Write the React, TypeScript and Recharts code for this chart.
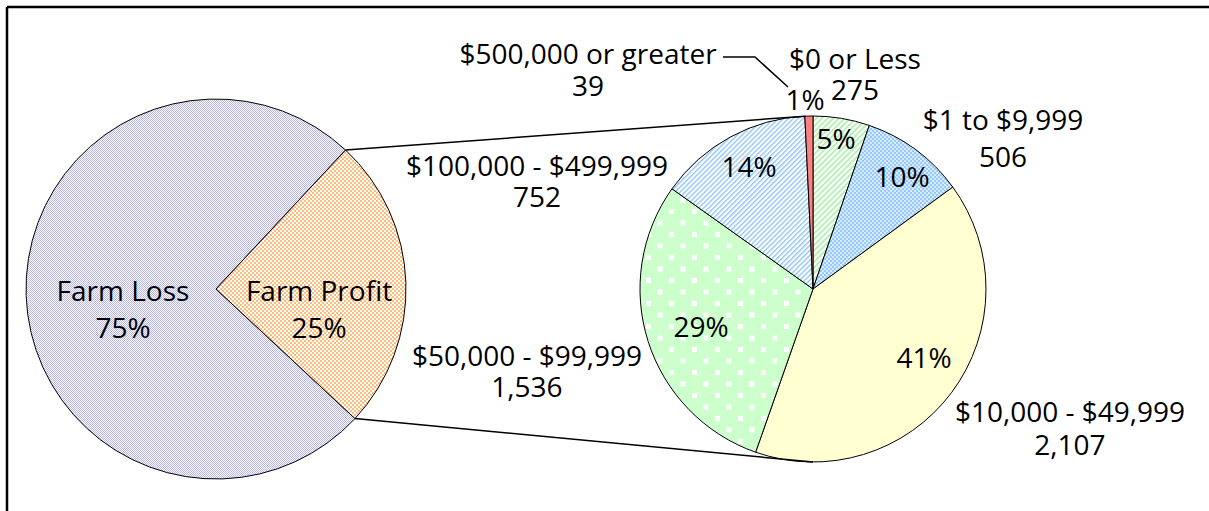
import React from "react";
import { PieChart, Pie, Cell } from "recharts";

// ---- data ----
const profitCategories = ["Farm Loss", "Farm Profit"];
const profitShares = [75, 25];
const profitShareLabels = ["75%", "25%"];

const incomeCategories = [
  "$0 or Less",
  "$1 to $9,999",
  "$10,000 - $49,999",
  "$50,000 - $99,999",
  "$100,000 - $499,999",
  "$500,000 or greater",
];
const incomeCounts = [275, 506, 2107, 1536, 752, 39];
const incomeCountLabels = ["275", "506", "2,107", "1,536", "752", "39"];
const incomePercentLabels = ["5%", "10%", "41%", "29%", "14%", "1%"];

// ---- layout / style ----
const W = 1209;
const H = 511;
const FONT = "'Open Sans', 'Noto Sans', sans-serif";
const FS = 28;

const LEFT = { cx: 216, cy: 289, r: 190, start: 317, end: -43 };
const RIGHT = { cx: 813, cy: 289, r: 173, start: 90, end: -270 };

const profitFills = ["url(#patLoss)", "url(#patProfit)"];
const incomeFills = [
  "url(#patGreenDiag)",
  "url(#patBlueCheck)",
  "#ffffd2",
  "url(#patGreenDots)",
  "url(#patBlueDiag)",
  "#ff8080",
];

const profitLabelLayout = [
  { x: 123, y1: 301, y2: 338 },
  { x: 319, y1: 301, y2: 338 },
];
const incomeNameLayout = [
  { x: 855, y1: 69, y2: 100 },
  { x: 1003, y1: 130, y2: 167 },
  { x: 1070, y1: 422, y2: 455 },
  { x: 527, y1: 366, y2: 397 },
  { x: 537, y1: 176, y2: 207 },
  { x: 588, y1: 64, y2: 96 },
];
const incomePctLayout = [
  { x: 836, y: 149 },
  { x: 902, y: 187 },
  { x: 924, y: 368 },
  { x: 701, y: 337 },
  { x: 749, y: 177 },
  { x: 805, y: 110 },
];

const profitData = profitCategories.map((name, i) => ({ name, value: profitShares[i] }));
const incomeData = incomeCategories.map((name, i) => ({ name, value: incomeCounts[i] }));

const txt = { fontFamily: FONT, fontSize: FS, fill: "#000" } as const;

const renderProfitLabel = (props: any) => {
  const i = props.index;
  const L = profitLabelLayout[i];
  return (
    <text key={`pl-${i}`} x={L.x} y={L.y1} textAnchor="middle" {...txt}>
      <tspan x={L.x} y={L.y1}>{profitCategories[i]}</tspan>
      <tspan x={L.x} y={L.y2}>{profitShareLabels[i]}</tspan>
    </text>
  );
};

const renderIncomeLabel = (props: any) => {
  const i = props.index;
  const N = incomeNameLayout[i];
  const P = incomePctLayout[i];
  return (
    <g key={`il-${i}`}>
      <text x={N.x} y={N.y1} textAnchor="middle" {...txt}>
        <tspan x={N.x} y={N.y1}>{incomeCategories[i]}</tspan>
        <tspan x={N.x} y={N.y2}>{incomeCountLabels[i]}</tspan>
      </text>
      <text x={P.x} y={P.y} textAnchor="middle" {...txt}>
        {incomePercentLabels[i]}
      </text>
    </g>
  );
};

const polar = (cx: number, cy: number, r: number, deg: number) => ({
  x: cx + r * Math.cos((deg * Math.PI) / 180),
  y: cy - r * Math.sin((deg * Math.PI) / 180),
});

export default function App() {
  const profitStart = LEFT.end + 90; // 47 deg
  const a = polar(LEFT.cx, LEFT.cy, LEFT.r, profitStart);
  const b = polar(LEFT.cx, LEFT.cy, LEFT.r, LEFT.end);
  const top = polar(RIGHT.cx, RIGHT.cy, RIGHT.r, 92.5);
  const bot = polar(RIGHT.cx, RIGHT.cy, RIGHT.r, 270);

  return (
    <div style={{ position: "absolute", left: 0, top: 0, width: W, height: H, background: "#fff" }}>
      <PieChart width={W} height={H} margin={{ top: 0, right: 0, bottom: 0, left: 0 }}>
        <defs>
          <pattern id="patLoss" width="2" height="2" patternUnits="userSpaceOnUse">
            <rect width="2" height="2" fill="#ffffff" />
            <rect x="0" y="0" width="1" height="1" fill="#b4b4f6" />
            <rect x="1" y="1" width="1" height="1" fill="#b4b4f6" />
          </pattern>
          <pattern id="patProfit" width="4" height="4" patternUnits="userSpaceOnUse">
            <rect width="4" height="4" fill="#ffffff" />
            <rect x="0" y="0" width="2" height="2" fill="#ffbb77" />
            <rect x="2" y="2" width="2" height="2" fill="#ffbb77" />
          </pattern>
          <pattern id="patGreenDiag" width="4" height="4" patternUnits="userSpaceOnUse" patternTransform="rotate(45)">
            <rect width="4" height="4" fill="#ffffff" />
            <rect x="0" y="0" width="1.6" height="4" fill="#a8eea8" />
          </pattern>
          <pattern id="patBlueCheck" width="4" height="4" patternUnits="userSpaceOnUse">
            <rect width="4" height="4" fill="#96c9ff" />
            <rect x="0" y="0" width="2" height="2" fill="#d8ebff" />
            <rect x="2" y="2" width="2" height="2" fill="#d8ebff" />
          </pattern>
          <pattern id="patGreenDots" width="23" height="23" patternUnits="userSpaceOnUse">
            <rect width="23" height="23" fill="#ccffcc" />
            <rect x="2" y="2" width="5" height="5" fill="#ffffff" />
            <rect x="13.5" y="13.5" width="5" height="5" fill="#ffffff" />
          </pattern>
          <pattern id="patBlueDiag" width="3.5" height="3.5" patternUnits="userSpaceOnUse" patternTransform="rotate(45)">
            <rect width="3.5" height="3.5" fill="#ffffff" />
            <rect x="0" y="0" width="1.4" height="3.5" fill="#92c6f7" />
          </pattern>
        </defs>
        <Pie
          data={profitData}
          dataKey="value"
          nameKey="name"
          cx={LEFT.cx}
          cy={LEFT.cy}
          outerRadius={LEFT.r}
          innerRadius={0}
          startAngle={LEFT.start}
          endAngle={LEFT.end}
          stroke="#000"
          strokeWidth={1}
          isAnimationActive={false}
          label={renderProfitLabel}
          labelLine={false}
        >
          {profitData.map((d, i) => (
            <Cell key={d.name} fill={profitFills[i]} stroke="#000" strokeWidth={1} />
          ))}
        </Pie>
        <Pie
          data={incomeData}
          dataKey="value"
          nameKey="name"
          cx={RIGHT.cx}
          cy={RIGHT.cy}
          outerRadius={RIGHT.r}
          innerRadius={0}
          startAngle={RIGHT.start}
          endAngle={RIGHT.end}
          stroke="#000"
          strokeWidth={1}
          isAnimationActive={false}
          label={renderIncomeLabel}
          labelLine={false}
        >
          {incomeData.map((d, i) => (
            <Cell key={d.name} fill={incomeFills[i]} stroke="#000" strokeWidth={1} />
          ))}
        </Pie>
      </PieChart>
      <svg
        width={W}
        height={H}
        style={{ position: "absolute", left: 0, top: 0, pointerEvents: "none" }}
      >
        <line x1={7} y1={7} x2={W} y2={7} stroke="#000" strokeWidth={2.5} />
        <line x1={7} y1={7} x2={7} y2={H} stroke="#000" strokeWidth={2.5} />
        <line x1={a.x} y1={a.y} x2={top.x} y2={top.y} stroke="#000" strokeWidth={1.5} />
        <line x1={b.x} y1={b.y} x2={bot.x} y2={bot.y} stroke="#000" strokeWidth={1.5} />
        <polyline points="723,57 755,57 788,87" fill="none" stroke="#000" strokeWidth={1.5} />
      </svg>
    </div>
  );
}
